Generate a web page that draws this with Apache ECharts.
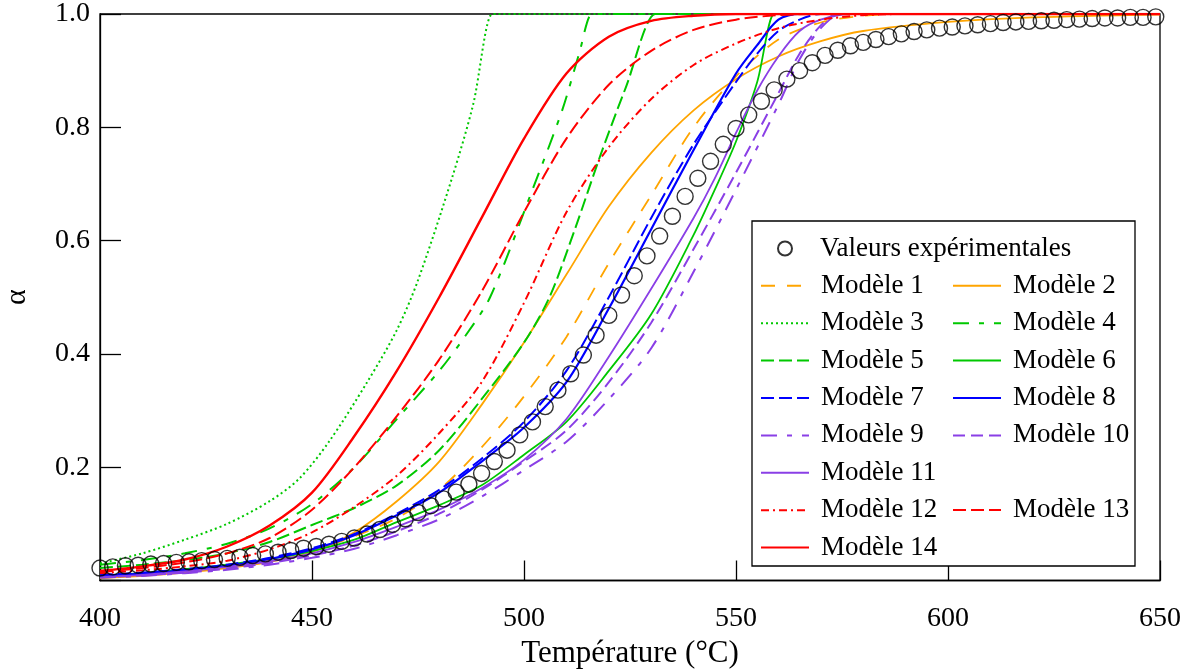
<!DOCTYPE html>
<html><head><meta charset="utf-8">
<script src="https://cdn.jsdelivr.net/npm/echarts@6/dist/echarts.min.js"></script>
<style>html,body{margin:0;padding:0;background:#fff}#c{width:1189px;height:671px}</style>
</head><body><div id="c"></div><script>
// ---- data ----
const xTicks = [400, 450, 500, 550, 600, 650];
const yTicks = ['', '0.2', '0.4', '0.6', '0.8', '1.0'];

const expT = [400,403,406,409,412,415,418,421,424,427,430,433,436,439,442,445,448,451,454,457,
  460,463,466,469,472,475,478,481,484,487,490,493,496,499,502,505,508,511,514,517,
  520,523,526,529,532,535,538,541,544,547,550,553,556,559,562,565,568,571,574,577,
  580,583,586,589,592,595,598,601,604,607,610,613,616,619,622,625,628,631,634,637,
  640,643,646,649];
const expA = [0.022,0.024,0.026,0.027,0.029,0.030,0.032,0.033,0.035,0.037,0.039,0.041,0.044,0.047,0.050,0.053,0.057,0.060,0.064,0.069,
  0.075,0.082,0.090,0.099,0.109,0.120,0.132,0.144,0.156,0.170,0.189,0.210,0.230,0.257,0.280,0.307,0.336,0.365,0.398,0.433,
  0.468,0.504,0.538,0.573,0.608,0.643,0.678,0.710,0.740,0.770,0.798,0.822,0.846,0.866,0.885,0.900,0.914,0.927,0.936,0.944,
  0.950,0.955,0.960,0.965,0.969,0.972,0.975,0.977,0.979,0.981,0.983,0.985,0.986,0.987,0.988,0.989,0.990,0.991,0.992,0.993,
  0.993,0.994,0.994,0.995];

const model1 = [[400,0.006],[410,0.010],[420,0.016],[430,0.024],[440,0.036],[450,0.053],[460,0.078],[470,0.11],[480,0.16],[490,0.235],[500,0.325],[510,0.43],[520,0.56],[530,0.68],[540,0.80],[550,0.89],[560,0.955],[570,0.985],[580,0.997],[590,1.0],[650,1.0]];
const model2 = [[400,0.004],[410,0.008],[420,0.014],[430,0.022],[440,0.033],[450,0.05],[460,0.085],[470,0.14],[480,0.21],[490,0.31],[500,0.42],[510,0.54],[520,0.66],[530,0.755],[540,0.83],[550,0.885],[560,0.925],[570,0.952],[580,0.97],[600,0.986],[620,0.994],[650,0.999]];
const model3 = [[400,0.030],[410,0.048],[420,0.072],[430,0.10],[440,0.14],[447,0.18],[454,0.245],[463,0.35],[470,0.442],[475,0.53],[483,0.71],[488,0.84],[492.5,1.0],[493.5,1.0],[650,1.0]];
const model4 = [[400,0.028],[410,0.036],[420,0.048],[430,0.065],[440,0.092],[450,0.135],[460,0.20],[470,0.285],[480,0.37],[486,0.43],[492,0.50],[502,0.69],[509,0.83],[513,0.93],[516,1.0],[517,1.0],[650,1.0]];
const model5 = [[400,0.022],[410,0.028],[420,0.036],[430,0.048],[440,0.068],[450,0.098],[460,0.128],[470,0.168],[480,0.23],[490,0.32],[500,0.42],[506,0.50],[512,0.62],[518,0.75],[524,0.87],[531,1.0],[532,1.0],[650,1.0]];
const model6 = [[400,0.008],[410,0.013],[420,0.020],[430,0.028],[440,0.038],[450,0.052],[460,0.072],[470,0.103],[480,0.133],[490,0.168],[500,0.222],[510,0.28],[520,0.37],[530,0.47],[540,0.61],[545,0.69],[550,0.775],[555,0.88],[559,1.0],[560,1.0],[650,1.0]];
const model7 = [[400,0.010],[410,0.014],[420,0.020],[430,0.028],[440,0.040],[450,0.057],[460,0.082],[470,0.118],[480,0.16],[490,0.215],[500,0.28],[510,0.37],[520,0.50],[530,0.64],[540,0.77],[550,0.88],[555,0.93],[560,0.97],[565,0.99],[570,1.0],[650,1.0]];
const model8 = [[400,0.008],[410,0.012],[420,0.018],[430,0.026],[440,0.038],[450,0.055],[460,0.08],[470,0.115],[480,0.155],[490,0.21],[500,0.27],[510,0.35],[520,0.48],[530,0.62],[540,0.76],[550,0.895],[555,0.945],[560,0.99],[565,1.0],[650,1.0]];
const model9 = [[400,0.005],[410,0.008],[420,0.013],[430,0.019],[440,0.028],[450,0.040],[460,0.056],[470,0.080],[480,0.108],[490,0.148],[500,0.195],[510,0.245],[520,0.32],[530,0.41],[540,0.545],[550,0.69],[560,0.84],[565,0.92],[570,0.975],[575,1.0],[650,1.0]];
const model10 = [[400,0.006],[410,0.009],[420,0.014],[430,0.021],[440,0.031],[450,0.044],[460,0.062],[470,0.087],[480,0.118],[490,0.16],[500,0.21],[510,0.265],[520,0.35],[530,0.455],[540,0.585],[550,0.72],[560,0.86],[565,0.93],[570,0.98],[574,1.0],[650,1.0]];
const model11 = [[400,0.006],[410,0.010],[420,0.016],[430,0.024],[440,0.034],[450,0.048],[460,0.068],[470,0.095],[480,0.125],[490,0.163],[500,0.213],[510,0.285],[520,0.395],[530,0.515],[540,0.64],[545,0.71],[550,0.79],[555,0.865],[560,0.925],[565,0.97],[570,0.99],[577,1.0],[650,1.0]];
const model12 = [[400,0.013],[410,0.018],[420,0.025],[430,0.035],[440,0.055],[450,0.085],[460,0.13],[470,0.185],[480,0.26],[490,0.35],[500,0.49],[510,0.65],[520,0.765],[530,0.85],[540,0.91],[550,0.948],[560,0.975],[570,0.99],[580,0.998],[590,1.0],[650,1.0]];
const model13 = [[400,0.015],[410,0.022],[420,0.032],[430,0.048],[440,0.075],[450,0.125],[460,0.20],[470,0.29],[480,0.39],[490,0.51],[500,0.65],[510,0.78],[520,0.875],[530,0.935],[540,0.972],[550,0.99],[560,0.998],[570,1.0],[650,1.0]];
const model14 = [[400,0.017],[410,0.025],[420,0.037],[430,0.060],[440,0.097],[450,0.155],[460,0.255],[470,0.37],[480,0.50],[490,0.64],[500,0.78],[510,0.895],[520,0.96],[530,0.988],[540,0.997],[550,1.0],[650,1.0]];

const expName = 'Valeurs expérimentales';
const modelNames = ['Modèle 1','Modèle 2','Modèle 3','Modèle 4','Modèle 5','Modèle 6','Modèle 7',
  'Modèle 8','Modèle 9','Modèle 10','Modèle 11','Modèle 12','Modèle 13','Modèle 14'];
const modelData = [model1,model2,model3,model4,model5,model6,model7,model8,model9,model10,model11,model12,model13,model14];

// ---- styles ----
const ORANGE = '#FFA500', GREEN = '#00C800', BLUE = '#0000FF', PURPLE = '#8A3FE6', RED = '#FF0000';
const styles = [
  {c: ORANGE, t: [14, 12], w: 1.8},
  {c: ORANGE, t: 'solid', w: 1.8},
  {c: GREEN, t: [2, 3], w: 2},
  {c: GREEN, t: [16, 10, 5, 10], w: 2},
  {c: GREEN, t: [13, 5], w: 2},
  {c: GREEN, t: 'solid', w: 1.8},
  {c: BLUE, t: [13, 5], w: 2},
  {c: BLUE, t: 'solid', w: 2.2},
  {c: PURPLE, t: [16, 10, 5, 10], w: 2},
  {c: PURPLE, t: [12, 6], w: 2},
  {c: PURPLE, t: 'solid', w: 1.8},
  {c: RED, t: [8, 4, 2, 4], w: 2},
  {c: RED, t: [13, 5], w: 2},
  {c: RED, t: 'solid', w: 2.4}
];

const FONT = 'Liberation Serif';
const series = modelData.map((d, i) => ({
  name: modelNames[i], type: 'line', data: d, symbol: 'none', showSymbol: false,
  smooth: 0.3, clip: true,
  lineStyle: {color: styles[i].c, type: styles[i].t, width: styles[i].w},
  itemStyle: {color: styles[i].c},
  emphasis: {disabled: true}, z: 2
}));
series.push({
  name: expName, type: 'scatter', data: expT.map((t, i) => [t, expA[i]]),
  symbol: 'circle', symbolSize: 16,
  itemStyle: {color: 'rgba(0,0,0,0)', borderColor: '#000', borderWidth: 1.4},
  emphasis: {disabled: true}, z: 3
});

const legendText = {fontFamily: FONT, fontSize: 27, color: '#000', lineHeight: 28, padding: [0, 0, 0, 7]};
const legendBase = {orient: 'vertical', itemWidth: 48, itemHeight: 14, itemGap: 9.4, padding: 0,
  textStyle: legendText, selectedMode: false, z: 6, itemStyle: {opacity: 0}};

const chart = echarts.init(document.getElementById('c'));
chart.setOption({
  animation: false,
  backgroundColor: '#fff',
  grid: {left: 100, right: 29, top: 14, bottom: 90.5, containLabel: false, outerBoundsMode: 'none',
    show: true, borderColor: '#000', borderWidth: 1.3, backgroundColor: 'transparent'},
  xAxis: {
    type: 'value', min: xTicks[0], max: xTicks[xTicks.length - 1], interval: 50,
    name: 'Température (°C)', nameLocation: 'middle', nameGap: 58,
    nameTextStyle: {fontFamily: FONT, fontSize: 31, color: '#000'},
    axisLine: {show: true, lineStyle: {color: '#000', width: 1.3}},
    axisTick: {show: true, inside: true, length: 20, lineStyle: {color: '#000', width: 1.3}},
    axisLabel: {fontFamily: FONT, fontSize: 28, color: '#000', margin: 24},
    splitLine: {show: false}
  },
  yAxis: {
    type: 'value', min: 0, max: 1, interval: 0.2,
    name: 'α', nameLocation: 'middle', nameGap: 68, nameRotate: 90,
    nameTextStyle: {fontFamily: FONT, fontSize: 30, color: '#000'},
    axisLine: {show: true, lineStyle: {color: '#000', width: 1.3}},
    axisTick: {show: true, inside: true, length: 21, lineStyle: {color: '#000', width: 1.3}},
    axisLabel: {fontFamily: FONT, fontSize: 28, color: '#000', margin: 10,
      formatter: (v) => yTicks[Math.round(v / 0.2)]},
    splitLine: {show: false}
  },
  graphic: [{
    type: 'rect', shape: {x: 752, y: 221, width: 383, height: 345}, z: 5,
    style: {fill: '#fff', stroke: '#000', lineWidth: 1.3}
  }],
  legend: [
    Object.assign({}, legendBase, {left: 777, top: 234.5, data: [expName], itemStyle: {},
      textStyle: Object.assign({}, legendText, {padding: [0, 0, 0, 6]})}),
    Object.assign({}, legendBase, {left: 760, top: 271.8, data: ['Modèle 1','Modèle 3','Modèle 5','Modèle 7','Modèle 9','Modèle 11','Modèle 12','Modèle 14']}),
    Object.assign({}, legendBase, {left: 952, top: 271.8, data: ['Modèle 2','Modèle 4','Modèle 6','Modèle 8','Modèle 10']}),
    Object.assign({}, legendBase, {left: 952, top: 496.1, data: ['Modèle 13']})
  ],
  series: series
});
</script></body></html>
